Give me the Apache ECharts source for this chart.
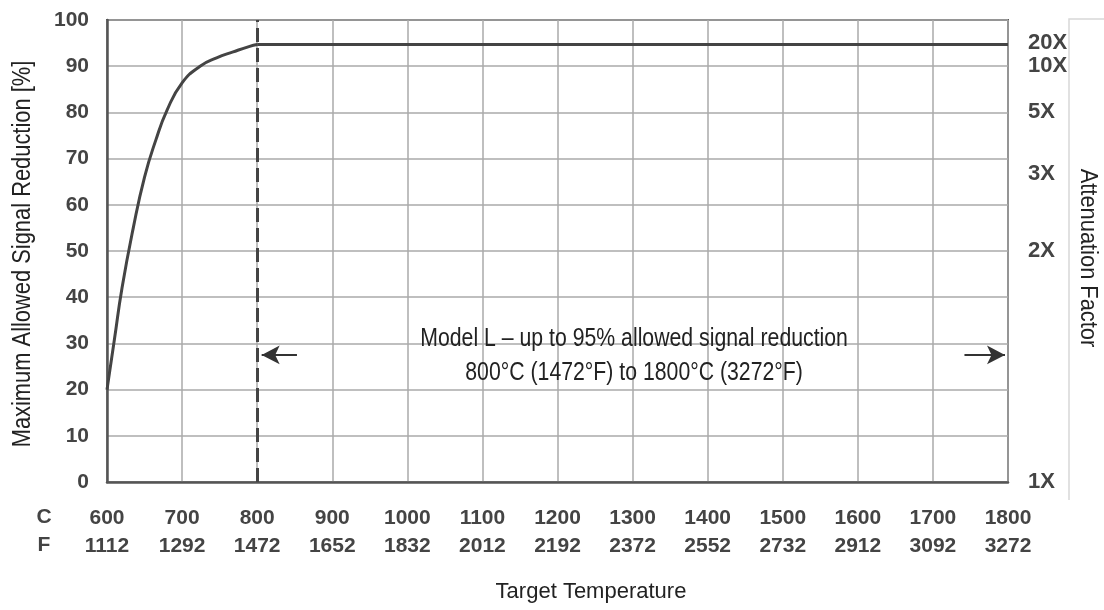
<!DOCTYPE html>
<html>
<head>
<meta charset="utf-8">
<script src="https://cdn.jsdelivr.net/npm/echarts@6/dist/echarts.min.js"></script>
<style>html,body{margin:0;padding:0;background:#fff;}#c{width:1104px;height:610px;}</style>
</head>
<body>
<div id="c"></div>
<script>
// Rising part of the curve: temperature (°C) and maximum allowed signal reduction (%)
const tempC = [600, 610, 620, 635, 650, 665, 680, 700, 724, 746, 768, 790, 800];
const reduction = [20, 31, 42, 55, 66, 74, 80.5, 86.4, 90, 91.8, 93.1, 94.3, 94.7];
// Flat part of the curve
const plateauC = [800, 1800];
const plateauR = [94.7, 94.7];
// Attenuation factor labels on the right axis
const attenFactors = [1, 2, 3, 5, 10, 20];
const attenPct = attenFactors.map(f => 100 * (1 - 1 / f));
// Model range
const modelStart = 800;
const arrowY = 27.5;
const leftArrow = [853, 806];
const rightArrow = [1742, 1796];
const noteLines = ['Model L \u2013 up to 95% allowed signal reduction', '800\u00b0C (1472\u00b0F) to 1800\u00b0C (3272\u00b0F)'];
const notePos = [[1302, 31.0], [1302, 23.6]];

const reg = '"Liberation Sans", Arial, sans-serif';
const bold = '"Liberation Sans", Arial, sans-serif';

const chart = echarts.init(document.getElementById('c'), null, {renderer: 'canvas'});
const lineStyle = {color: '#444', width: 3};
const option = {
  animation: false,
  backgroundColor: '#fff',
  grid: {left: 107, right: 96, top: 20, bottom: 128, show: true, borderColor: '#5a5a5a', borderWidth: 2, containLabel: false},
  xAxis: {
    type: 'value', min: 600, max: 1800, interval: 100,
    axisLine: {show: true, onZero: false, lineStyle: {color: '#555', width: 2.5}},
    axisTick: {show: false},
    splitLine: {show: true, lineStyle: {color: '#aaa', width: 1.5}},
    axisLabel: {
      margin: 22, fontFamily: bold, fontWeight: 'bold', fontSize: 21, color: '#444', lineHeight: 28,
      formatter: v => v + '\n' + Math.round(v * 9 / 5 + 32)
    }
  },
  yAxis: [{
    type: 'value', min: 0, max: 100, interval: 10,
    axisLine: {show: true, lineStyle: {color: '#555', width: 2.5}},
    axisTick: {show: false},
    splitLine: {show: true, lineStyle: {color: '#aaa', width: 1.5}},
    axisLabel: {margin: 18, fontFamily: bold, fontWeight: 'bold', fontSize: 21, color: '#444'}
  }, {
    type: 'value', min: 0, max: 100, position: 'right',
    axisLine: {show: false}, axisTick: {show: false}, splitLine: {show: false},
    axisLabel: {
      customValues: attenPct, margin: 20, fontFamily: bold, fontWeight: 'bold', fontSize: 22, color: '#444',
      formatter: v => Math.round(100 / (100 - v)) + 'X'
    }
  }],
  series: [{
    type: 'line',
    data: tempC.map((t, i) => [t, reduction[i]]),
    smooth: 0.5,
    showSymbol: false,
    lineStyle: lineStyle,
    z: 5
  }, {
    type: 'line',
    data: plateauC.map((t, i) => [t, plateauR[i]]),
    showSymbol: false,
    lineStyle: lineStyle,
    z: 5,
    markLine: {
      silent: true, animation: false,
      label: {show: false},
      data: [
        [{coord: [modelStart, 0], symbol: 'none'}, {coord: [modelStart, 100], symbol: 'none', lineStyle: {color: '#444', width: 3, type: [14, 6]}}],
        [{coord: [leftArrow[0], arrowY], symbol: 'none'}, {coord: [leftArrow[1], arrowY], symbol: 'arrow', symbolSize: [14, 18], lineStyle: {color: '#333', width: 2, type: 'solid'}}],
        [{coord: [rightArrow[0], arrowY], symbol: 'none'}, {coord: [rightArrow[1], arrowY], symbol: 'arrow', symbolSize: [14, 18], lineStyle: {color: '#333', width: 2, type: 'solid'}}]
      ]
    }
  }]
};
chart.setOption(option);

const notes = noteLines.map((s, i) => {
  const p = chart.convertToPixel({gridIndex: 0}, notePos[i]);
  return {type: 'text', x: p[0], y: p[1], scaleX: 0.85, z: 10, style: {text: s, font: '25px ' + reg, fill: '#222', align: 'center', verticalAlign: 'middle'}};
});
chart.setOption({
  graphic: notes.concat([
    {type: 'text', x: 23, y: 254, rotation: Math.PI / 2, scaleX: 0.875, style: {text: 'Maximum Allowed Signal Reduction [%]', font: '25px ' + reg, fill: '#222', align: 'center', verticalAlign: 'middle'}},
    {type: 'text', x: 1087, y: 258, rotation: -Math.PI / 2, scaleX: 0.95, style: {text: 'Attenuation Factor', font: '23px ' + reg, fill: '#222', align: 'center', verticalAlign: 'middle'}},
    {type: 'text', x: 591, y: 592, style: {text: 'Target Temperature', font: '22px ' + reg, fill: '#222', align: 'center', verticalAlign: 'middle'}},
    {type: 'text', x: 44, y: 517, style: {text: 'C', font: 'bold 21px ' + bold, fill: '#444', align: 'center', verticalAlign: 'middle'}},
    {type: 'text', x: 44, y: 545, style: {text: 'F', font: 'bold 21px ' + bold, fill: '#444', align: 'center', verticalAlign: 'middle'}},
    {type: 'polyline', shape: {points: [[1069, 500], [1069, 19], [1104, 19]]}, style: {stroke: '#d8d8d8', lineWidth: 1.5, fill: null}}
  ])
});
</script>
</body>
</html>
